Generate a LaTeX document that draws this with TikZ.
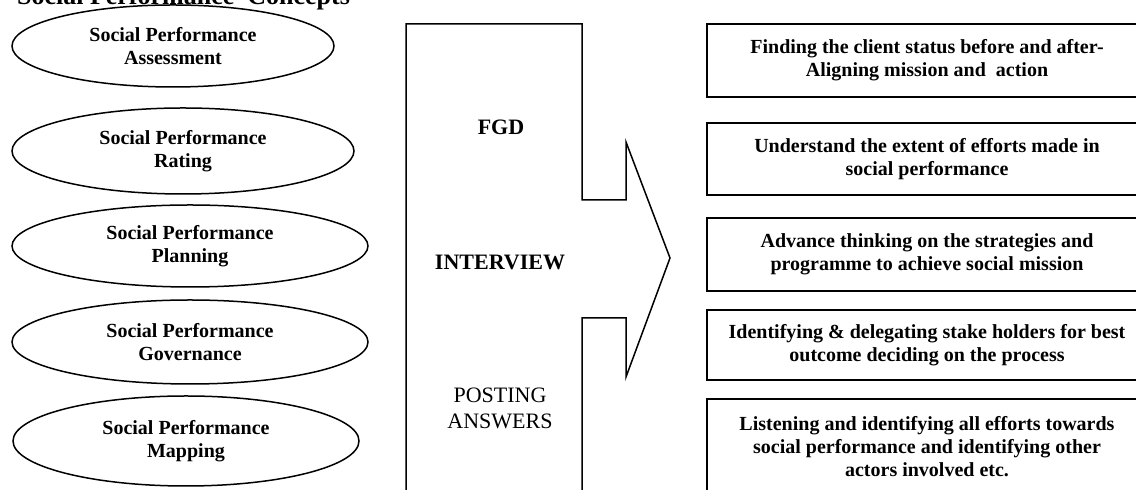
\documentclass[tikz,border=0pt]{standalone}
\usepackage{fontspec}
\setmainfont{Liberation Serif}
\usepackage{tikz}
\usetikzlibrary{shapes.geometric}

\begin{document}
\begin{tikzpicture}[
    x=0.5pt, y=-0.5pt,
    concept/.style={ellipse, draw, line width=0.75pt, inner sep=0pt, align=center,
        font=\bfseries\fontsize{10}{11.5}\selectfont},
    outcome/.style={rectangle, draw, line width=1pt, minimum width=220pt, align=center,
        font=\bfseries\fontsize{10}{11.5}\selectfont},
    method/.style={align=center, font=\bfseries\fontsize{11}{13}\selectfont}
]
    \useasboundingbox (0,0) rectangle (1136,490);
    \clip (0,0) rectangle (1136,490);

    \node[anchor=base west, font=\bfseries\fontsize{13}{15}\selectfont] (title) at (10,5) {Social Performance\ \ Concepts};

    % concepts
    \node[concept, minimum width=161pt, minimum height=41pt] (assessment) at (173,46) {Social Performance\\Assessment};
    \node[concept, minimum width=171pt, minimum height=43pt] (rating) at (183,151) {Social Performance\\Rating};
    \node[concept, minimum width=178pt, minimum height=41pt] (planning) at (190,246) {Social Performance\\Planning};
    \node[concept, minimum width=178pt, minimum height=42pt] (governance) at (190,342) {Social Performance\\Governance};
    \node[concept, minimum width=173pt, minimum height=45pt] (mapping) at (186,441) {Social Performance\\Mapping};

    % big arrow
    \draw[line width=0.75pt] (406,500) -- (406,24) -- (582,24) -- (582,200) -- (626,200) -- (626,142)
        -- (670,258) -- (626,377) -- (626,318) -- (582,318) -- (582,500);
    \node[method] (fgd) at (501,127) {FGD};
    \node[method] (interview) at (500,262) {INTERVIEW};
    \node[method, font=\fontsize{11}{13}\selectfont] (posting) at (500,408) {POSTING\\ANSWERS};

    % outcomes
    \node[outcome, minimum height=36.5pt] (status) at (927,60.5) {Finding the client status before and after-\\Aligning mission and\ \ action};
    \node[outcome, minimum height=36pt] (efforts) at (927,159) {Understand the extent of efforts made in\\social performance};
    \node[outcome, minimum height=36.5pt] (strategy) at (927,254.5) {Advance thinking on the strategies and\\programme to achieve social mission};
    \node[outcome, minimum height=35pt] (stakeholders) at (927,345) {Identifying \& delegating stake holders for best\\outcome deciding on the process};
    \node[outcome, minimum height=48pt] (listening) at (927,447) {Listening and identifying all efforts towards\\social performance and identifying other\\actors involved etc.};
\end{tikzpicture}
\end{document}
